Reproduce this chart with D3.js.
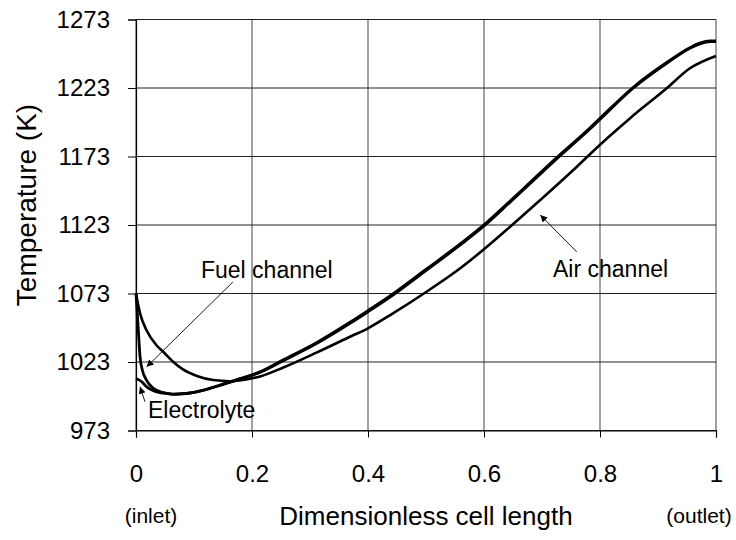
<!DOCTYPE html>
<html>
<head>
<meta charset="utf-8">
<script src="https://cdn.jsdelivr.net/npm/d3@7"></script>
<style>
  body { margin: 0; background: #fff; }
  svg text { font-family: "Liberation Sans", Arial, sans-serif; fill: #000; }
</style>
</head>
<body>
<div id="chart"></div>
<script>
// data
var xTicks = [0, 0.2, 0.4, 0.6, 0.8, 1];
var yTicks = [973, 1023, 1073, 1123, 1173, 1223, 1273];

var xAir = [0, 0.007, 0.018, 0.035, 0.047, 0.064, 0.081, 0.105, 0.133, 0.162,
            0.19, 0.214, 0.254, 0.312, 0.369, 0.4, 0.443, 0.501, 0.559, 0.602,
            0.645, 0.697, 0.754, 0.801, 0.852, 0.915, 0.955, 1.0];
var tAir = [1073, 1058.5, 1046.3, 1035.4, 1030.5, 1023.2, 1017.6, 1012.8, 1009.8, 1009,
            1010.3, 1012.5, 1019, 1030, 1041.4, 1047.6, 1058.5, 1074.3, 1091.4, 1106,
            1121.7, 1141.2, 1163.1, 1182, 1201, 1222.8, 1237.4, 1246.4];

var xFuel = [0, 0.002, 0.004, 0.007, 0.011, 0.018, 0.03, 0.047, 0.064, 0.087,
             0.116, 0.145, 0.173, 0.214, 0.254, 0.312, 0.369, 0.4, 0.443, 0.501,
             0.559, 0.602, 0.645, 0.668, 0.725, 0.783, 0.801, 0.857, 0.915, 0.955,
             0.972, 0.99, 1.0];
var tFuel = [1073, 1060, 1046.3, 1026.8, 1017, 1009.8, 1003.8, 1000.6, 999.6, 1000.1,
             1002.5, 1006.2, 1009.8, 1015.5, 1024, 1036.6, 1051.2, 1059.7, 1071.9, 1090.1,
             1108.4, 1123, 1139.7, 1148.7, 1171.2, 1193.2, 1200.5, 1222.8, 1241, 1252,
             1255.1, 1256.8, 1256.8];

var xElec = [0, 0.01, 0.018, 0.03, 0.047, 0.064, 0.087, 0.116, 0.145, 0.173,
             0.214, 0.254, 0.312, 0.369, 0.4, 0.443, 0.501, 0.559, 0.602, 0.645,
             0.668, 0.725, 0.783, 0.801, 0.857, 0.915, 0.955, 0.972, 0.99, 1.0];
var tElec = [1011, 1008.6, 1005, 1002, 1000.3, 999.4, 1000, 1002.3, 1006, 1009.9,
             1015.8, 1024.6, 1037.3, 1052, 1060.5, 1072.7, 1090.9, 1109.2, 1123.8, 1140.5,
             1149.5, 1172, 1194, 1201.3, 1223.4, 1241.6, 1252.4, 1255.7, 1257.3, 1257.3];

// labels with arrows (text anchor point, arrow start, arrow tip) in data units
var notes = [
  {text: "Fuel channel", tx: 0.112, ty: 1084.3, x1: 0.167, y1: 1081.4, x2: 0.0184, y2: 1019.5},
  {text: "Electrolyte",  tx: 0.0207, ty: 982,    x1: 0.0155, y1: 994,  x2: 0.0069, y2: 1005},
  {text: "Air channel",  tx: 0.719,  ty: 1085,   x1: 0.76,  y1: 1103.3, x2: 0.697, y2: 1130.3}
];

var width = 736, height = 540;
var plotLeft = 136, plotRight = 716, plotTop = 19.5, plotBottom = 430.5;
var tickFont = 24, noteFont = 23;

var svg = d3.select("#chart").append("svg")
    .attr("width", width)
    .attr("height", height);

svg.append("defs").append("marker")
    .attr("id", "head")
    .attr("viewBox", "0 0 10 10")
    .attr("refX", 10).attr("refY", 5)
    .attr("markerWidth", 7).attr("markerHeight", 7)
    .attr("markerUnits", "userSpaceOnUse")
    .attr("orient", "auto")
    .append("path")
    .attr("d", "M0,0 L10,5 L0,10 z")
    .attr("fill", "#000");

var x = d3.scaleLinear().domain([0, 1]).range([plotLeft, plotRight]);
var y = d3.scaleLinear().domain([973, 1273]).range([plotBottom, plotTop]);

// grid
svg.append("g").selectAll("line")
    .data(xTicks)
    .enter().append("line")
    .attr("x1", function (d) { return x(d); })
    .attr("x2", function (d) { return x(d); })
    .attr("y1", plotTop).attr("y2", plotBottom)
    .attr("stroke", "#7a7a7a")
    .attr("stroke-width", 1.4);

svg.append("g").selectAll("line")
    .data(yTicks)
    .enter().append("line")
    .attr("x1", plotLeft).attr("x2", plotRight)
    .attr("y1", function (d) { return y(d); })
    .attr("y2", function (d) { return y(d); })
    .attr("stroke", "#222")
    .attr("stroke-width", 1);

// axes
var yAxis = svg.append("g")
    .attr("transform", "translate(" + plotLeft + ",0)")
    .call(d3.axisLeft(y).tickValues(yTicks).tickSize(8).tickPadding(18).tickFormat(d3.format("d")));

var xAxis = svg.append("g")
    .attr("transform", "translate(0," + plotBottom + ")")
    .call(d3.axisBottom(x).tickValues(xTicks).tickSize(7).tickPadding(27).tickFormat(d3.format("~g")));

[xAxis, yAxis].forEach(function (g) {
    g.select(".domain").attr("stroke", "#000").attr("stroke-width", 1.2);
    g.selectAll(".tick line").attr("stroke", "#000");
    g.selectAll("text").style("font-size", tickFont + "px")
        .style("font-family", "Liberation Sans, Arial, sans-serif").attr("fill", "#000");
});

// axis titles
svg.append("text")
    .attr("transform", "translate(35.5,205) rotate(-90)")
    .attr("text-anchor", "middle")
    .style("font-size", "28px")
    .text("Temperature (K)");

svg.append("text")
    .attr("x", (plotLeft + plotRight) / 2).attr("y", 525)
    .attr("text-anchor", "middle")
    .style("font-size", "26px")
    .text("Dimensionless cell length");

svg.append("text")
    .attr("x", 151).attr("y", 523)
    .attr("text-anchor", "middle")
    .style("font-size", "21px")
    .text("(inlet)");

svg.append("text")
    .attr("x", 699).attr("y", 523)
    .attr("text-anchor", "middle")
    .style("font-size", "21px")
    .text("(outlet)");

// curves
var line = d3.line()
    .x(function (d) { return x(d[0]); })
    .y(function (d) { return y(d[1]); })
    .curve(d3.curveMonotoneX);

var series = [
    {xs: xAir, ts: tAir, w: 2.6},
    {xs: xFuel, ts: tFuel, w: 2.8},
    {xs: xElec, ts: tElec, w: 2.8}
];

svg.append("g").selectAll("path")
    .data(series)
    .enter().append("path")
    .attr("d", function (s) { return line(d3.zip(s.xs, s.ts)); })
    .attr("fill", "none")
    .attr("stroke", "#000")
    .attr("stroke-width", function (s) { return s.w; })
    .attr("stroke-linejoin", "round");

// annotations
var ann = svg.append("g");
ann.selectAll("line")
    .data(notes)
    .enter().append("line")
    .attr("x1", function (d) { return x(d.x1); })
    .attr("y1", function (d) { return y(d.y1); })
    .attr("x2", function (d) { return x(d.x2); })
    .attr("y2", function (d) { return y(d.y2); })
    .attr("stroke", "#000")
    .attr("stroke-width", 0.9)
    .attr("marker-end", "url(#head)");

ann.selectAll("text")
    .data(notes)
    .enter().append("text")
    .attr("x", function (d) { return x(d.tx); })
    .attr("y", function (d) { return y(d.ty); })
    .style("font-size", noteFont + "px")
    .text(function (d) { return d.text; });
</script>
</body>
</html>
